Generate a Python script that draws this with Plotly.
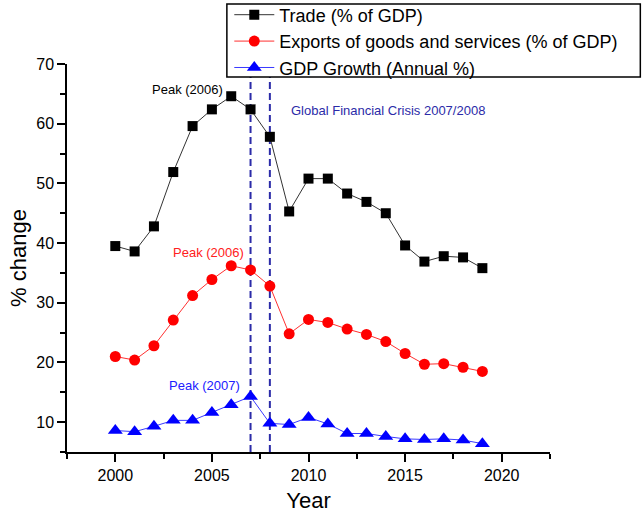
import plotly.graph_objects as go

years = list(range(2000, 2020))
trade = [39.5, 38.6, 42.8, 51.9, 59.6, 62.4, 64.6, 62.4, 57.8, 45.3,
         50.8, 50.8, 48.3, 46.9, 45.0, 39.6, 36.9, 37.8, 37.6, 35.8]
exports = [21.0, 20.4, 22.8, 27.1, 31.2, 33.9, 36.2, 35.5, 32.8, 24.8,
           27.2, 26.7, 25.6, 24.7, 23.5, 21.5, 19.7, 19.8, 19.2, 18.5]
gdp_growth = [8.6, 8.4, 9.3, 10.3, 10.3, 11.6, 12.9, 14.3, 9.8, 9.6,
              10.8, 9.7, 8.1, 8.1, 7.6, 7.2, 7.1, 7.2, 7.0, 6.4]
crisis_years = [2007, 2008]

font = "Liberation Sans, Arial, sans-serif"
navy = "#2b2ba8"

fig = go.Figure()

for yr in crisis_years:
    fig.add_trace(go.Scatter(x=[yr, yr], y=[5, 70], mode="lines", showlegend=False,
                             line=dict(color=navy, width=2, dash="7px,4px"), hoverinfo="skip"))

fig.add_trace(go.Scatter(x=years, y=trade, name="Trade (% of GDP)", mode="lines+markers",
                         line=dict(color="#333333", width=1),
                         marker=dict(symbol="square", size=10, color="black")))
fig.add_trace(go.Scatter(x=years, y=exports, name="Exports of goods and services (% of GDP)",
                         mode="lines+markers", line=dict(color="#ff3030", width=1),
                         marker=dict(symbol="circle", size=11, color="#ff0000")))
fig.add_trace(go.Scatter(x=years, y=gdp_growth, name="GDP Growth (Annual %)", mode="lines+markers",
                         line=dict(color="#3a3aff", width=1),
                         marker=dict(symbol="triangle-up", size=13, color="#0000ff")))

annotations = [
    dict(x=2005.7, y=65.7, text="Peak (2006)", xanchor="right", font=dict(color="black", size=13)),
    dict(x=2009.0, y=62.2, text="Global Financial Crisis 2007/2008", xanchor="left",
         font=dict(color=navy, size=13)),
    dict(x=2004.8, y=38.4, text="Peak (2006)", font=dict(color="#ff2020", size=13)),
    dict(x=2004.6, y=16.2, text="Peak (2007)", font=dict(color="#2020ff", size=13)),
]
for a in annotations:
    a.update(xref="x", yref="y", showarrow=False, font=dict(family=font, **a["font"]))

# legend frame drawn as a shape so it can be tighter than plotly's own box
fig.add_shape(type="rect", xref="paper", yref="paper", x0=0.331, x1=1.187, y0=0.9665, y1=1.1546,
              fillcolor="white", line=dict(color="black", width=1.5), layer="above")

fig.update_layout(
    width=642, height=513,
    margin=dict(l=67, r=92, t=64, b=61, autoexpand=False),
    paper_bgcolor="white", plot_bgcolor="white",
    font=dict(family=font, color="black"),
    annotations=annotations,
    legend=dict(x=0.336, y=1.174, xanchor="left", yanchor="top",
                bgcolor="rgba(0,0,0,0)", borderwidth=0,
                font=dict(size=18), tracegroupgap=0, itemwidth=40),
)
fig.update_xaxes(range=[1997.5, 2022.5], tickvals=[2000, 2005, 2010, 2015, 2020],
                 ticks="outside", ticklen=8, tickwidth=1.5, tickcolor="black",
                 minor=dict(tickvals=[1997.5, 2002.5, 2007.5, 2012.5, 2017.5, 2022.5],
                            ticks="outside", ticklen=5, tickwidth=1.5, tickcolor="black"),
                 showline=True, linecolor="black", linewidth=1.5, showgrid=False, zeroline=False,
                 tickfont=dict(size=16), title=dict(text="Year", font=dict(size=22), standoff=10))
fig.update_yaxes(range=[5, 70], tickvals=[10, 20, 30, 40, 50, 60, 70],
                 ticks="outside", ticklen=8, tickwidth=1.5, tickcolor="black",
                 minor=dict(tickvals=[5, 15, 25, 35, 45, 55, 65],
                            ticks="outside", ticklen=5, tickwidth=1.5, tickcolor="black"),
                 showline=True, linecolor="black", linewidth=1.5, showgrid=False, zeroline=False,
                 tickfont=dict(size=16), title=dict(text="% change", font=dict(size=22), standoff=4))

# page body has a default 8px margin; drop it so the figure fills the window
fig.write_html("out.html", config={"displayModeBar": False},
               post_script="document.body.style.margin = '0';")
